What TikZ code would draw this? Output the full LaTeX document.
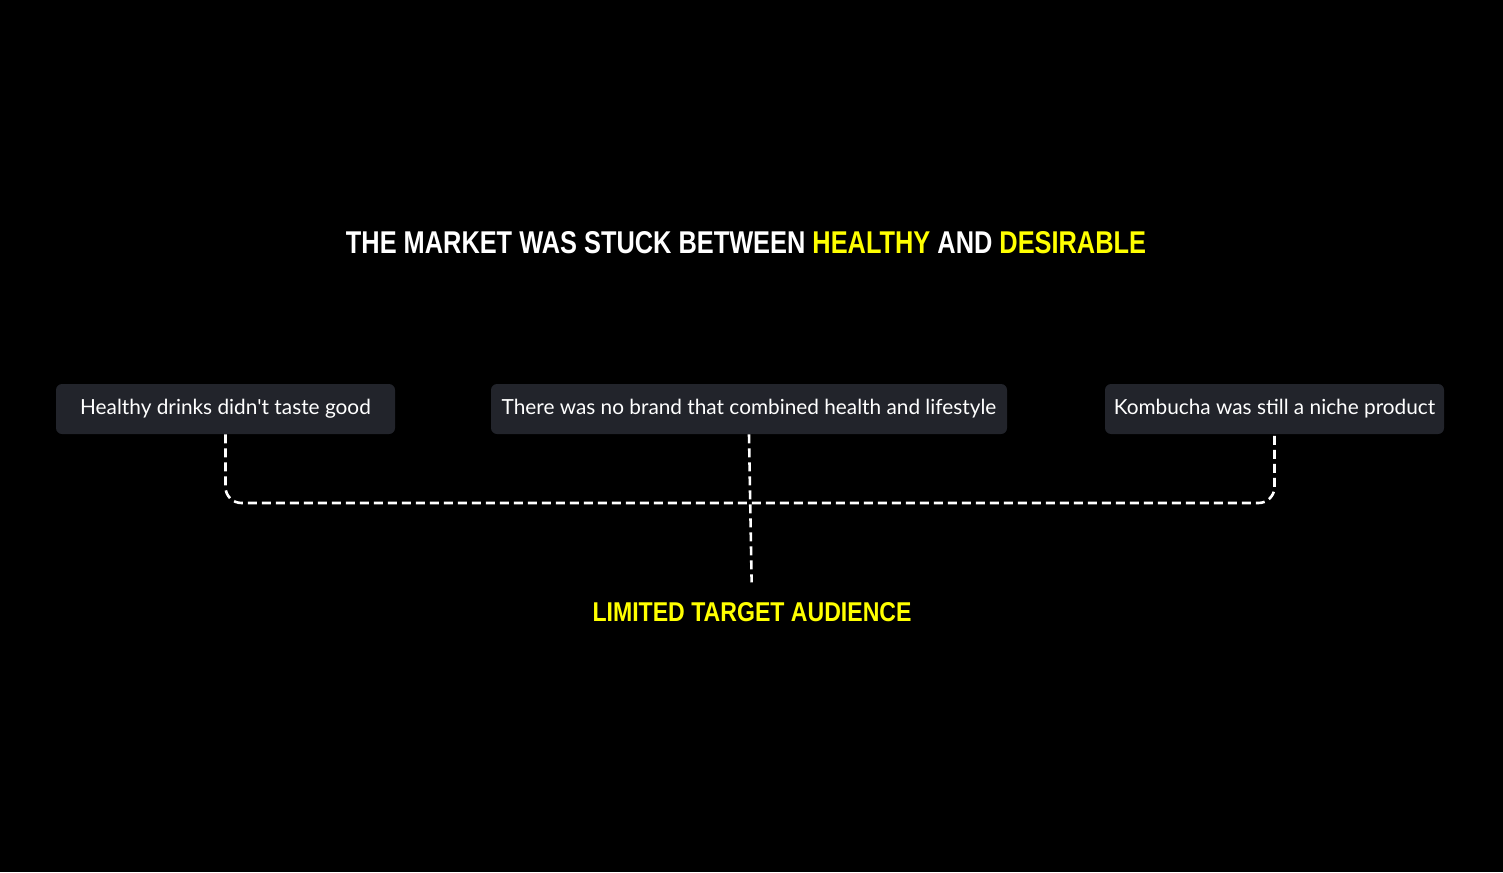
\documentclass[tikz,border=0pt]{standalone}
\usepackage{fontspec}
\setmainfont{Lato}
\newfontfamily\headfont{Liberation Sans}
\definecolor{boxgray}{HTML}{22242B}
\definecolor{hiyellow}{HTML}{FFFF00}
\begin{document}
\begin{tikzpicture}[x=0.5pt, y=-0.5pt,
    pain/.style={fill=boxgray, rounded corners=3pt, text=white, inner sep=0pt,
      minimum height=25pt, font=\fontsize{10.4}{12}\selectfont},
    link/.style={white, line width=1.3pt, dash pattern=on 4.5pt off 2.5pt}]
% Background
    \fill[black] (0,0) rectangle (1503,872);
% Heading
    \node[inner sep=0pt, text=white, font=\headfont\bfseries] (title) at (746,242.5)
      {\resizebox{400pt}{11pt}{THE MARKET WAS STUCK BETWEEN \textcolor{hiyellow}{HEALTHY} AND \textcolor{hiyellow}{DESIRABLE}}};
% Pain points
    \node[pain, minimum width=169.5pt] (taste) at (225.5,409) {Healthy drinks didn\textquotesingle t taste good};
    \node[pain, minimum width=258pt] (brand) at (749,409) {There was no brand that combined health and lifestyle};
    \node[pain, minimum width=169.5pt] (niche) at (1274.5,409) {Kombucha was still a niche product};
% Result
    \node[inner sep=0pt, text=hiyellow, font=\headfont\bfseries] (audience) at (752,612.5)
      {\resizebox{159.5pt}{9.5pt}{LIMITED TARGET AUDIENCE}};
% Connectors
    \coordinate (join) at (749,503);
    \draw[link, rounded corners=8pt] (taste.south) |- (join) -| (niche.south);
    \draw[link, shorten >=10pt] (brand.south) -- (audience.north);
\end{tikzpicture}
\end{document}
